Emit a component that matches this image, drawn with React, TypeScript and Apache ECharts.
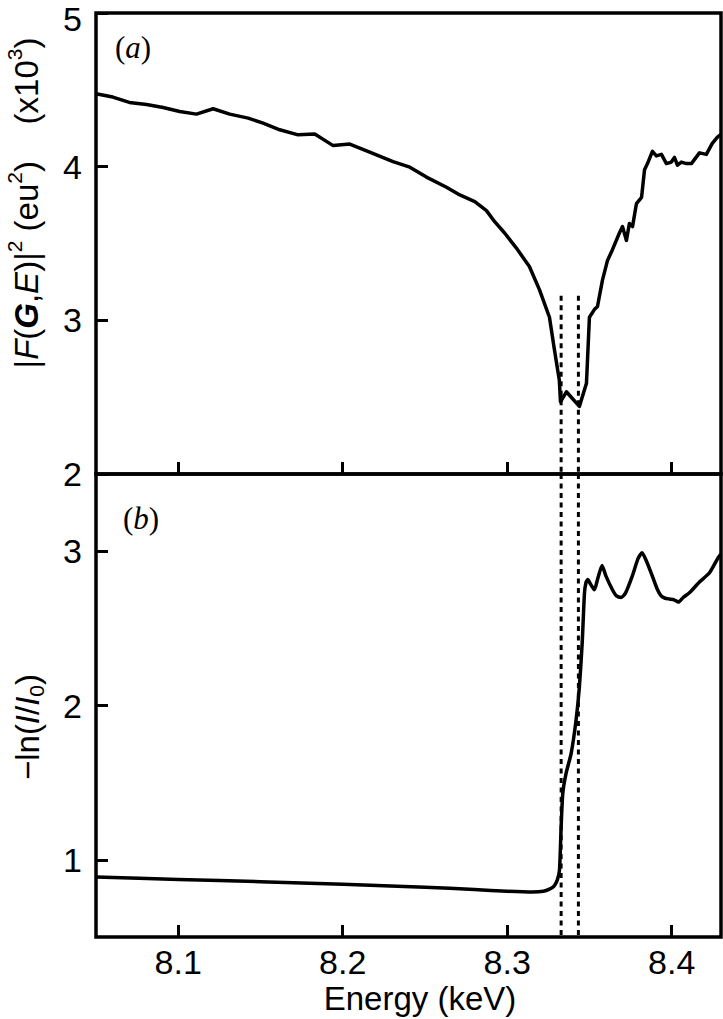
import React, { useEffect, useRef } from 'react';
import * as echarts from 'echarts';

// ---- data ----
const xTicks = [8.1, 8.2, 8.3, 8.4];
const topYTicks = [2, 3, 4, 5];
const bottomYTicks = [1, 2, 3];

// panel (a): |F(G,E)|^2 (x10^3)
const energyA = [
  8.05, 8.0602, 8.0703, 8.0807, 8.0908, 8.1009, 8.1111, 8.1212, 8.1313, 8.1425,
  8.1516, 8.1617, 8.1729, 8.183, 8.1942, 8.2043, 8.2164, 8.2306, 8.2408, 8.2509,
  8.2631, 8.2712, 8.2803, 8.2874, 8.2924, 8.2983, 8.3056, 8.3135, 8.3196, 8.3257,
  8.3287, 8.3317, 8.3324, 8.336, 8.3439, 8.3482, 8.35, 8.353, 8.3549, 8.3579,
  8.361, 8.364, 8.3683, 8.3701, 8.3725, 8.3743, 8.3762, 8.3786, 8.3817, 8.3835,
  8.3853, 8.3883, 8.3907, 8.3938, 8.3968, 8.3998, 8.4017, 8.4035, 8.4059, 8.409,
  8.412, 8.4169, 8.4211, 8.4246, 8.4277, 8.43,
];
const fA = [
  4.474, 4.453, 4.418, 4.405, 4.385, 4.359, 4.342, 4.377, 4.342, 4.316,
  4.283, 4.24, 4.207, 4.212, 4.137, 4.147, 4.094, 4.033, 3.997, 3.932,
  3.866, 3.816, 3.773, 3.714, 3.642, 3.57, 3.47, 3.35, 3.2, 3.02,
  2.81, 2.61, 2.47, 2.535, 2.44, 2.59, 3.02, 3.07, 3.09, 3.26,
  3.39, 3.46, 3.57, 3.61, 3.52, 3.63, 3.61, 3.76, 3.8, 3.98,
  4.02, 4.1, 4.07, 4.08, 4.02, 4.03, 4.06, 4.01, 4.03, 4.02,
  4.02, 4.09, 4.08, 4.15, 4.19, 4.21,
];

// panel (b): -ln(I/I0)
const energyB = [
  8.05, 8.1, 8.15, 8.2, 8.25, 8.28, 8.3, 8.3154, 8.322, 8.3257,
  8.3285, 8.3305, 8.3318, 8.3328, 8.3338, 8.3358, 8.3389, 8.3419, 8.3439, 8.3456,
  8.347, 8.348, 8.349, 8.3505, 8.353, 8.355, 8.3577, 8.36, 8.364, 8.3665,
  8.3693, 8.372, 8.3761, 8.3795, 8.382, 8.3845, 8.3875, 8.391, 8.3936, 8.396,
  8.3986, 8.4015, 8.4041, 8.407, 8.4108, 8.4169, 8.423, 8.4284, 8.43,
];
const absB = [
  0.888, 0.873, 0.858, 0.842, 0.823, 0.807, 0.796, 0.791, 0.796, 0.81,
  0.83, 0.87, 0.933, 1.214, 1.43, 1.56, 1.69, 1.907, 2.12, 2.405,
  2.73, 2.8, 2.816, 2.79, 2.75, 2.82, 2.907, 2.84, 2.75, 2.71,
  2.7, 2.73, 2.84, 2.95, 2.99, 2.94, 2.86, 2.76, 2.71, 2.695,
  2.69, 2.685, 2.67, 2.7, 2.73, 2.8, 2.86, 2.96, 2.98,
];

// dashed markers
const dashedX = [8.3328, 8.3433];
const dashTopStart = 3.16;

const SANS = 'Liberation Sans';
const SERIF = 'Liberation Serif';

export default function App() {
  const ref = useRef<HTMLDivElement>(null);

  useEffect(() => {
    const chart = echarts.init(ref.current!, null, { renderer: 'svg' });

    const tickStyle = { show: true, inside: true, length: 12, lineStyle: { color: '#000', width: 3 } };
    const labelStyle = { color: '#000', fontSize: 34, fontFamily: SANS };

    const xBase = (gridIndex: number, withLabels: boolean) => ({
      type: 'value',
      gridIndex,
      min: 8.05,
      max: 8.43,
      axisLine: { show: false },
      splitLine: { show: false },
      axisTick: { ...tickStyle, customValues: xTicks },
      axisLabel: withLabels
        ? { ...labelStyle, lineHeight: 30, margin: 10, customValues: xTicks, formatter: (v: number) => v.toFixed(1) }
        : { show: false },
    });

    const dashSeries: any[] = [];
    dashedX.forEach((x) => {
      dashSeries.push({
        type: 'line',
        xAxisIndex: 0,
        yAxisIndex: 0,
        data: [[x, dashTopStart], [x, 2]],
        showSymbol: false,
        silent: true,
        lineStyle: { color: '#000', width: 3, type: [5, 4.5] },
      });
      dashSeries.push({
        type: 'line',
        xAxisIndex: 1,
        yAxisIndex: 1,
        data: [[x, 3.5], [x, 0.5]],
        showSymbol: false,
        silent: true,
        lineStyle: { color: '#000', width: 3, type: [5, 4.5] },
      });
    });

    const topMax = topYTicks[topYTicks.length - 1];

    const gridCommon = {
      left: 96,
      width: 625,
      show: true,
      borderColor: '#000',
      borderWidth: 3.5,
      backgroundColor: 'transparent',
      containLabel: false,
      outerBoundsMode: 'none',
    };

    const option: any = {
      animation: false,
      backgroundColor: '#fff',
      grid: [
        { ...gridCommon, top: 13, height: 461 },
        { ...gridCommon, top: 474, height: 463 },
      ],
      xAxis: [xBase(0, false), xBase(1, true)],
      yAxis: [
        {
          type: 'value',
          gridIndex: 0,
          min: 2,
          max: 5,
          interval: 1,
          axisLine: { show: false },
          splitLine: { show: false },
          axisTick: { ...tickStyle, customValues: topYTicks },
          axisLabel: {
            ...labelStyle,
            lineHeight: 24,
            margin: 14,
            customValues: topYTicks,
            formatter: (v: number) => (v === topMax ? `{top|${v}}` : `${v}`),
            rich: {
              top: { fontSize: 34, fontFamily: SANS, color: '#000', lineHeight: 14, padding: [12, 0, 0, 0] },
            },
          },
        },
        {
          type: 'value',
          gridIndex: 1,
          min: 0.5,
          max: 3.5,
          axisLine: { show: false },
          splitLine: { show: false },
          axisTick: { ...tickStyle, customValues: bottomYTicks },
          axisLabel: { ...labelStyle, lineHeight: 24, margin: 14, customValues: bottomYTicks },
        },
      ],
      series: [
        ...dashSeries,
        {
          type: 'line',
          xAxisIndex: 0,
          yAxisIndex: 0,
          data: energyA.map((e, i) => [e, fA[i]]),
          showSymbol: false,
          lineStyle: { color: '#000', width: 3.5, join: 'round' },
        },
        {
          type: 'line',
          xAxisIndex: 1,
          yAxisIndex: 1,
          data: energyB.map((e, i) => [e, absB[i]]),
          showSymbol: false,
          smooth: 0.2,
          lineStyle: { color: '#000', width: 3.5, join: 'round' },
        },
      ],
      graphic: [
        {
          type: 'text',
          x: 26,
          y: 203,
          rotation: Math.PI / 2,
          style: {
            text: '|{i|F}({bi|G},{i|E})|{sup|2} (eu{sup|2})    (x10{sup|3})',
            fontSize: 33,
            fontFamily: SANS,
            lineHeight: 44,
            fill: '#000',
            align: 'center',
            verticalAlign: 'middle',
            rich: {
              i: { fontStyle: 'italic', fontSize: 33, fontFamily: SANS, lineHeight: 44 },
              bi: { fontStyle: 'italic', fontWeight: 'bold', fontSize: 33, fontFamily: SANS, lineHeight: 44 },
              sup: { fontSize: 21, fontFamily: SANS, lineHeight: 20, verticalAlign: 'top' },
            },
          },
        },
        {
          type: 'text',
          x: 27,
          y: 727,
          rotation: Math.PI / 2,
          style: {
            text: '\u2212ln({i|I}/{i|I}{sub|0})',
            fontSize: 33,
            fontFamily: SANS,
            lineHeight: 40,
            fill: '#000',
            align: 'center',
            verticalAlign: 'middle',
            rich: {
              i: { fontStyle: 'italic', fontSize: 33, fontFamily: SANS, lineHeight: 40 },
              sub: { fontSize: 21, fontFamily: SANS, lineHeight: 20, verticalAlign: 'bottom' },
            },
          },
        },
        {
          type: 'text',
          x: 133,
          y: 47,
          style: {
            text: '({i|a})',
            fontSize: 31,
            fontFamily: SERIF,
            fill: '#000',
            align: 'center',
            verticalAlign: 'middle',
            rich: { i: { fontStyle: 'italic', fontSize: 31, fontFamily: SERIF } },
          },
        },
        {
          type: 'text',
          x: 141,
          y: 518,
          style: {
            text: '({i|b})',
            fontSize: 31,
            fontFamily: SERIF,
            fill: '#000',
            align: 'center',
            verticalAlign: 'middle',
            rich: { i: { fontStyle: 'italic', fontSize: 31, fontFamily: SERIF } },
          },
        },
        {
          type: 'text',
          x: 420,
          y: 998,
          style: {
            text: 'Energy (keV)',
            fontSize: 33,
            fontFamily: SANS,
            lineHeight: 30,
            fill: '#000',
            align: 'center',
            verticalAlign: 'middle',
          },
        },
      ],
    };

    chart.setOption(option);
    return () => chart.dispose();
  }, []);

  return (
    <div
      ref={ref}
      style={{ position: 'fixed', left: 0, top: 0, width: 723, height: 1019, background: '#fff' }}
    />
  );
}
